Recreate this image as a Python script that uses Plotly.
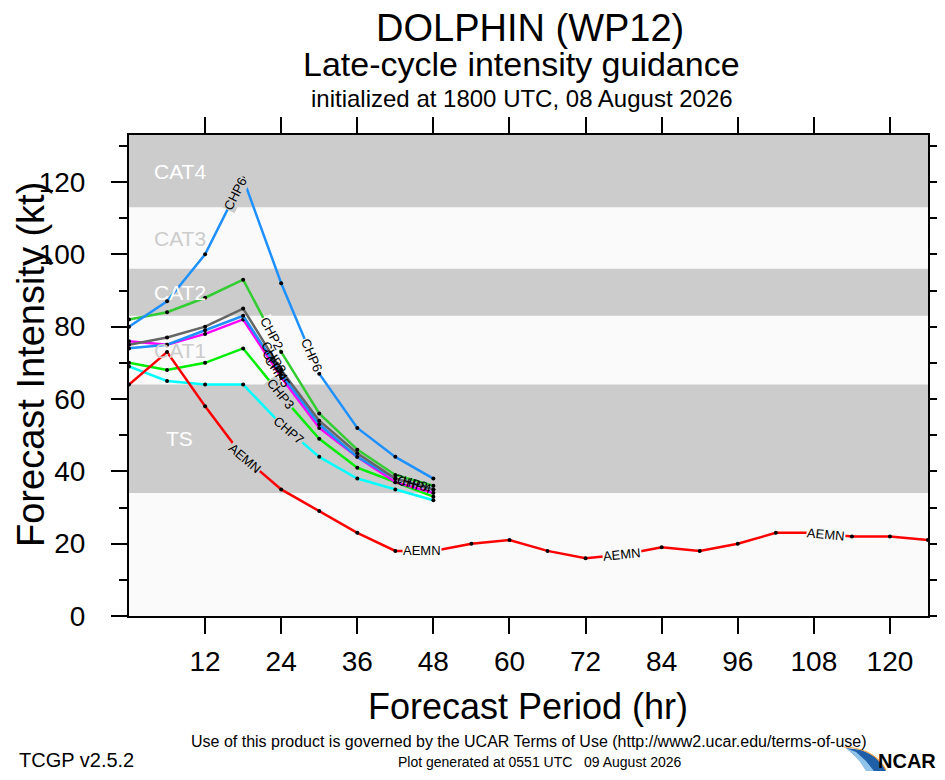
import math
import plotly.graph_objects as go

# ---- data ----
HOURS = [0, 6, 12, 18, 24, 30, 36, 42, 48]
AEMN_HOURS = [0, 6, 12, 18, 24, 30, 36, 42, 48, 54, 60, 66, 72, 78, 84, 90, 96,
              102, 108, 114, 120, 126]
AEMN = [64, 73, 58, 44, 35, 29, 23, 18, 18, 20, 21, 18, 16, 17, 19, 18, 20,
        23, 23, 22, 22, 21]
CHP6 = [80, 87, 100, 121, 92, 67, 52, 44, 38]
CHP2 = [82, 84, 88, 93, 73, 56, 46, 39, 36]
CHP8 = [75, 77, 80, 85, 68, 54, 45, 38, 35]
CHP4 = [74, 75, 79, 83, 67, 53, 44, 38, 35]
CHP5 = [76, 75, 78, 82, 66, 52, 44, 37, 34]
CHP3 = [70, 68, 70, 74, 61, 49, 41, 37, 33]
CHP7 = [69, 65, 64, 64, 53, 44, 38, 35, 32]

BAND_EDGES = [34, 64, 83, 96, 113]
BAND_NAMES = ["TS", "CAT1", "CAT2", "CAT3", "CAT4"]
XTICKS = [12, 24, 36, 48, 60, 72, 84, 96, 108, 120]
YTICKS = [0, 20, 40, 60, 80, 100, 120]

X_RANGE = [0, 126]
Y_RANGE = [0, 133]

# name: (hours, values, colour)
SERIES = {
    "CHP7": (HOURS, CHP7, "#00ffff"),
    "CHP3": (HOURS, CHP3, "#00ee00"),
    "CHP5": (HOURS, CHP5, "#ff00ff"),
    "CHP4": (HOURS, CHP4, "#1e90ff"),
    "CHP8": (HOURS, CHP8, "#666666"),
    "CHP2": (HOURS, CHP2, "#33cc33"),
    "CHP6": (HOURS, CHP6, "#1e90ff"),
    "AEMN": (AEMN_HOURS, AEMN, "#ff0000"),
}

# line labels: series, segment index, fraction along segment, gap in line
LABELS = [
    ("CHP6", 2, 0.8, True), ("CHP6", 4, 0.8, True),
    ("CHP2", 3, 0.75, True), ("CHP3", 3, 0.97, True),
    ("CHP7", 4, 0.2, True), ("AEMN", 3, 0.05, True),
    ("CHP8", 3, 0.8, False), ("CHP4", 3, 0.85, False), ("CHP5", 3, 0.9, False),
    ("CHP8", 7, 0.4, False), ("CHP4", 7, 0.5, False),
    ("AEMN", 7, 0.7, True), ("AEMN", 12, 0.95, True), ("AEMN", 18, 0.33, True),
]

GREY = "#cccccc"
LIGHT = "#fafafa"
FONT = "Liberation Sans, Arial, sans-serif"
NARROW = "Liberation Sans Narrow, Liberation Sans, Arial, sans-serif"

# default body margin of the page: keep the figure inside the window
OFF = 8
W, H = 945 - 2 * OFF, 780 - 2 * OFF
# plot frame in page pixels
P_L, P_R, P_T, P_B = 129, 928, 135, 616
ML, MT = P_L - OFF, P_T - OFF
MR, MB = W - (P_R - OFF), H - (P_B - OFF)
PW, PH = P_R - P_L, P_B - P_T
PX_HR = PW / (X_RANGE[1] - X_RANGE[0])
PX_KT = PH / (Y_RANGE[1] - Y_RANGE[0])


def fx(px):
    return (px - P_L) / PW


def fy(py):
    return (P_B - py) / PH


def band_colour(v):
    idx = sum(1 for e in BAND_EDGES if v >= e)
    return GREY if idx % 2 == 1 else LIGHT


fig = go.Figure()

for name, (hrs, vals, col) in SERIES.items():
    fig.add_trace(go.Scatter(
        x=hrs, y=vals, mode="lines+markers", name=name,
        line=dict(color=col, width=2.5),
        marker=dict(color="black", size=4),
        cliponaxis=False, showlegend=False,
    ))

# intensity category bands
edges = [Y_RANGE[0]] + BAND_EDGES + [Y_RANGE[1]]
for i in range(len(edges) - 1):
    if i % 2 == 1:
        fig.add_shape(type="rect", xref="x domain", yref="y",
                      x0=0, x1=1, y0=edges[i], y1=edges[i + 1],
                      fillcolor=GREY, line_width=0, layer="below")
for i, name in enumerate(BAND_NAMES):
    mid = (edges[i + 1] + edges[i + 2]) / 2
    fig.add_annotation(x=8, y=mid, xref="x", yref="y", text=name,
                       showarrow=False, xanchor="center", yanchor="middle",
                       font=dict(family=FONT, size=21,
                                 color="white" if i % 2 == 0 else GREY))

# labels along the lines
for name, seg, frac, gap in LABELS:
    hrs, vals, col = SERIES[name]
    h1, h2 = hrs[seg], hrs[seg + 1]
    v1, v2 = vals[seg], vals[seg + 1]
    hx = h1 + frac * (h2 - h1)
    vy = v1 + frac * (v2 - v1)
    ang = -math.degrees(math.atan2((v2 - v1) * PX_KT, (h2 - h1) * PX_HR))
    fig.add_annotation(x=hx, y=vy, xref="x", yref="y", text=name,
                       showarrow=False, textangle=ang,
                       xanchor="center", yanchor="middle",
                       bgcolor=band_colour(vy) if gap else None,
                       borderpad=0,
                       font=dict(family=FONT, size=13, color="black"))

# titles and notes
texts = [
    ("DOLPHIN (WP12)", 530, 28, 38, FONT),
    ("Late-cycle intensity guidance", 521, 64, 34, FONT),
    ("initialized at 1800 UTC, 08 August 2026", 522, 98, 24, FONT),
    ("Forecast Period (hr)", 528, 706, 36, FONT),
    ("Use of this product is governed by the UCAR Terms of Use "
     "(http://www2.ucar.edu/terms-of-use)", 529, 741, 16, NARROW),
    ("Plot generated at 0551 UTC&nbsp;&nbsp;&nbsp;09 August 2026",
     540, 762, 14, NARROW),
    ("TCGP v2.5.2", 76, 760, 20, NARROW),
]
for txt, px, py, size, fam in texts:
    fig.add_annotation(x=fx(px), y=fy(py), xref="paper", yref="paper",
                       text=txt, showarrow=False,
                       xanchor="center", yanchor="middle",
                       font=dict(family=fam, size=size, color="black"))
fig.add_annotation(x=fx(31), y=fy(365), xref="paper", yref="paper",
                   text="Forecast Intensity (kt)", showarrow=False,
                   xanchor="center", yanchor="middle",
                   textangle=-90, font=dict(family=FONT, size=38, color="black"))


# NCAR logo
def pth(points):
    return "M " + " L ".join(f"{fx(a):.4f},{fy(b):.4f}" for a, b in points) + " Z"


fig.add_shape(type="path", xref="paper", yref="paper",
              path=pth([(846, 748), (862, 750), (874, 756), (883, 765),
                        (886, 771), (868, 771), (862, 763), (854, 755)]),
              fillcolor="#1f5fa8", line_width=0)
fig.add_shape(type="path", xref="paper", yref="paper",
              path=pth([(846, 748), (854, 755), (860, 762), (866, 771),
                        (874, 771), (866, 761), (856, 752)]),
              fillcolor="#8fc3ea", line_width=0)
fig.add_shape(type="path", xref="paper", yref="paper",
              path=f"M {fx(844):.4f},{fy(747):.4f} Q {fx(874):.4f},{fy(748):.4f} "
                   f"{fx(886):.4f},{fy(770):.4f}",
              line=dict(color="#f0a040", width=1.2))
fig.add_annotation(x=fx(907), y=fy(761), xref="paper", yref="paper",
                   text="<b>NCAR</b>", showarrow=False,
                   xanchor="center", yanchor="middle",
                   font=dict(family=NARROW, size=20, color="black"))

axis_common = dict(
    showline=True, linecolor="black", linewidth=2, mirror="ticks",
    ticks="outside", ticklen=16, tickwidth=2, tickcolor="black",
    showgrid=False, zeroline=False, automargin=False,
    tickfont=dict(family=FONT, size=28, color="black"),
)
fig.update_xaxes(range=X_RANGE, tickvals=XTICKS, ticklabelstandoff=3,
                 **axis_common)
fig.update_yaxes(range=Y_RANGE, tickvals=YTICKS, ticklabelstandoff=20,
                 minor=dict(dtick=10, ticks="outside", ticklen=8,
                            tickwidth=2, tickcolor="black"),
                 **axis_common)

fig.update_layout(
    width=W, height=H,
    margin=dict(l=ML, r=MR, t=MT, b=MB),
    paper_bgcolor="white", plot_bgcolor=LIGHT,
    font=dict(family=FONT),
    showlegend=False,
)

fig.write_html("out.html")
